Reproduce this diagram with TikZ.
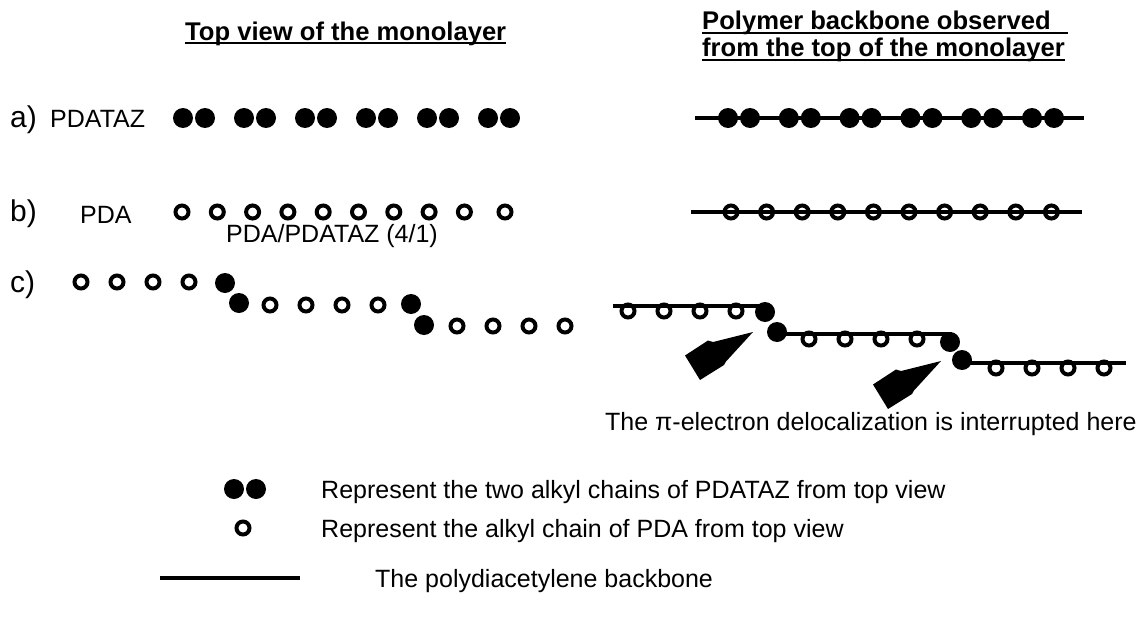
\documentclass[tikz,border=0pt]{standalone}
\usepackage{fontspec}
\setmainfont{Liberation Sans}
\begin{document}
\begin{tikzpicture}[x=1pt,y=-1pt,
  fdot/.style={circle,fill=black,inner sep=0pt,minimum size=20pt},
  odot/.style={circle,draw=black,fill=white,line width=4pt,inner sep=0pt,minimum size=13pt},
  backbone/.style={line width=4pt},
  ul/.style={line width=2pt},
  txt/.style={anchor=base west,inner sep=0pt,font=\fontsize{25}{30}\selectfont},
  ttl/.style={anchor=base west,inner sep=0pt,font=\fontsize{25.6}{30}\selectfont\bfseries},
  big/.style={anchor=base west,inner sep=0pt,font=\fontsize{30}{34}\selectfont},
  wedge/.style={fill=black}
]
\useasboundingbox (0,0) rectangle (1141,621);

% titles
\node[ttl] (t1) at (185,40) {Top view of the monolayer};
\draw[ul] (t1.base west) ++(0,3) coordinate (u1a) -- (t1.base east |- u1a) coordinate (u1b);
\node[ttl] (t2) at (702,29) {Polymer backbone observed};
\coordinate (u2a) at (702,33); \coordinate (u2b) at (1068,33);
\draw[ul] (u2a) -- (u2b);
\node[ttl] (t3) at (702,56) {from the top of the monolayer};
\draw[ul] (t3.base west) ++(0,4) coordinate (u3a) -- (t3.base east |- u3a) coordinate (u3b);

% row labels
\node[big] (la) at (10,127) {a)};
\node[txt] (pa) at (50,127) {PDATAZ};
\node[big] (lb) at (10,221) {b)};
\node[txt] (pb) at (80,223) {PDA};
\node[big] (lc) at (10,292) {c)};
\node[txt] (pc) at (226,242) {PDA/PDATAZ (4/1)};

% row a left
\foreach \i in {0,...,5}{
  \node[fdot] (aLl\i) at ({194+61*\i-11},118) {};
  \node[fdot] (aLr\i) at ({194+61*\i+11},118) {};
}
% row a right
\coordinate (aR0) at (695,118); \coordinate (aR1) at (1084,118);
\draw[backbone] (aR0) -- (aR1);
\foreach \i in {0,...,5}{
  \node[fdot] (aRl\i) at ({739+60.8*\i-11},118) {};
  \node[fdot] (aRr\i) at ({739+60.8*\i+11},118) {};
}

% row b left
\foreach \i in {0,...,8}{
  \node[odot] (bL\i) at ({182+35.3*\i},212) {};
}
\node[odot] (bL9) at (505,212) {};
% row b right
\foreach \i in {0,...,9}{
  \node[odot] (bR\i) at ({731+35.6*\i},212) {};
}
\coordinate (bR0s) at (691,212); \coordinate (bR1s) at (1082,212);
\draw[backbone] (bR0s) -- (bR1s);

% row c left
\foreach \i in {0,...,3}{
  \node[odot] (cL1\i) at ({81+36*\i},282) {};
  \node[odot] (cL2\i) at ({270+36*\i},305) {};
  \node[odot] (cL3\i) at ({457+36*\i},326) {};
}
\node[fdot] (cLA) at (225,283) {};
\node[fdot] (cLB) at (239,303) {};
\node[fdot] (cLC) at (411,304) {};
\node[fdot] (cLD) at (424,325) {};

% row c right
\foreach \i in {0,...,3}{
  \node[odot] (cR1\i) at ({628+36*\i},311) {};
  \node[odot] (cR2\i) at ({809+36*\i},339) {};
  \node[odot] (cR3\i) at ({996+36*\i},368) {};
}
\coordinate (s1a) at (613,306); \coordinate (s1b) at (760,306);
\coordinate (s2a) at (777,334); \coordinate (s2b) at (952,334);
\coordinate (s3a) at (962,363); \coordinate (s3b) at (1126,363);
\draw[backbone] (s1a) -- (s1b);
\draw[backbone] (s2a) -- (s2b);
\draw[backbone] (s3a) -- (s3b);
\node[fdot] (cR1f) at (765,312) {};
\node[fdot] (cR2f) at (777,332) {};
\node[fdot] (cR3f) at (950,342) {};
\node[fdot] (cR4f) at (962,360) {};

% wedge arrows
\foreach \tx/\ty in {753/332, 941/361}{
  \fill[wedge] (\tx,\ty) -- ++(-40,10) -- ++(-5,-1.5) -- ++(-23,15) -- ++(15,24.5) -- ++(24,-15) -- ++(2,-3.5) -- cycle;
}
\node[txt] (note) at (605,430) {The π-electron delocalization is interrupted here};

% legend
\node[fdot] (lg1) at (234,489) {};
\node[fdot] (lg2) at (256,489) {};
\node[txt] (lt1) at (321,498) {Represent the two alkyl chains of PDATAZ from top view};
\node[odot] (lg3) at (243,528) {};
\node[txt] (lt2) at (321,537) {Represent the alkyl chain of PDA from top view};
\coordinate (lg4a) at (160,578); \coordinate (lg4b) at (300,578);
\draw[backbone] (lg4a) -- (lg4b);
\node[txt] (lt3) at (375,587) {The polydiacetylene backbone};
\end{tikzpicture}
\end{document}
